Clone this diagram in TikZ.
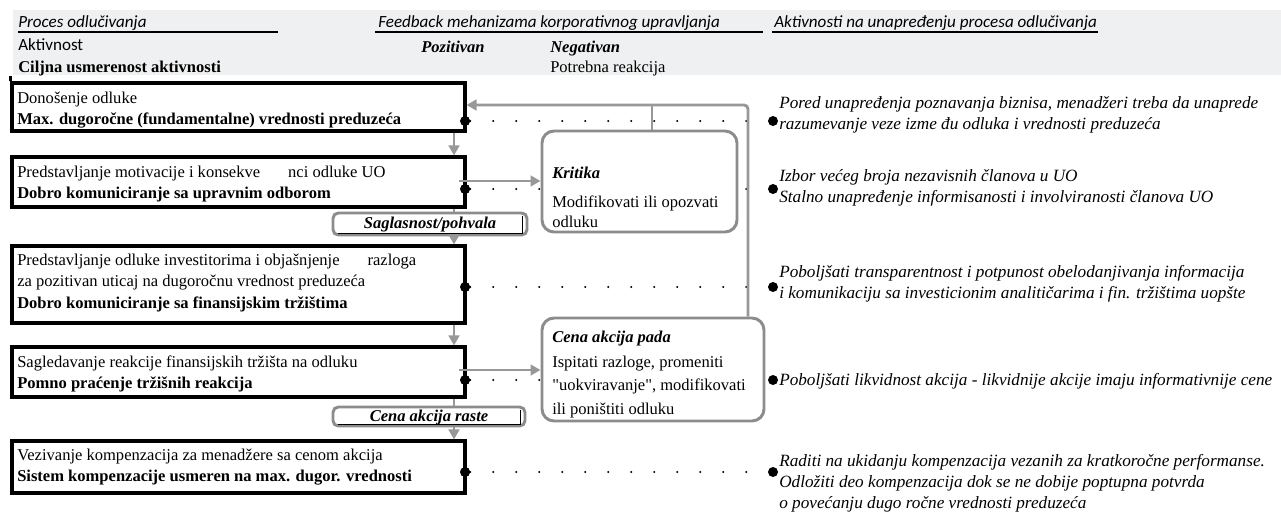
\documentclass[tikz,border=0pt]{standalone}
\usepackage{fontspec}
\setmainfont{Liberation Serif}
\newfontfamily\rawserif[Ligatures=TeXOff]{Liberation Serif}
\newfontfamily\calfont{Carlito}
\usetikzlibrary{arrows.meta,fit,calc}
\definecolor{band}{RGB}{239,240,241}
\definecolor{lg}{RGB}{152,152,152}
\definecolor{bg}{RGB}{140,140,140}
\tikzset{
 blackbox/.style={draw=black, line width=2.3pt, inner sep=0pt, fill=white},
 gbox/.style={draw=bg, line width=2.2pt, rounded corners=9pt, inner sep=0pt, fill=white},
 lbox/.style={draw=bg, line width=2.2pt, rounded corners=4pt, inner sep=0pt, fill=white},
 garrow/.style={draw=lg, line width=2.2pt, -{Triangle[length=7.5pt,width=8pt]}},
 gline/.style={draw=lg, line width=2.2pt},
 bigdot/.style={circle, fill=black, inner sep=0pt, minimum size=7.5pt},
 dotline/.style={draw=black, line width=1.6pt, line cap=round, dash pattern=on 0pt off 17.25pt},
 tx/.style={anchor=base west, inner sep=0pt, font=\fontsize{12.4}{15}\selectfont},
 tb/.style={tx, font=\fontsize{12.4}{15}\selectfont\bfseries},
 tbi/.style={tx, font=\fontsize{12.4}{15}\selectfont\bfseries\itshape},
 ti/.style={tx, font=\fontsize{12.9}{15}\selectfont\itshape},
 hs/.style={tx, font=\fontsize{12.8}{15}\selectfont\calfont},
 hsi/.style={tx, font=\fontsize{12.8}{15}\selectfont\calfont\itshape},
}
\begin{document}
\begin{tikzpicture}[x=0.75pt,y=-0.75pt]
\useasboundingbox (0,0) rectangle (1281,525);
\fill[white] (0,0) rectangle (1281,525);
% header band
\node[fill=band, inner sep=0pt, fit={(13,10)(1281,75)}] (hdr) {};
\node[hsi] (h1) at (18,27) {Proces odlučivanja};
\node[hsi] (h2) at (378,27) {Feedback mehanizama korporativnog upravljanja};
\node[hsi] (h3) at (774,27) {Aktivnosti na unapređenju procesa odlučivanja};
\draw[line width=0.9pt] (18,32) -- (278,32);
\draw[line width=0.9pt] (375,32) -- (763,32);
\draw[line width=0.9pt] (772,32) -- (1098,32);
\node[hs] (ha) at (18,50) {Aktivnost};
\node[tb] (hc) at (18,72) {Ciljna usmerenost aktivnosti};
\node[tbi] (hp) at (421,52) {Pozitivan};
\node[tbi] (hn) at (550,52) {Negativan};
\node[tx] (hr) at (550,72) {Potrebna reakcija};
% dots
\node[bigdot] (l1) at (465,121) {}; \node[bigdot] (r1) at (773,121) {};
\node[bigdot] (l2) at (465,189) {}; \node[bigdot] (r2) at (773,189) {};
\node[bigdot] (l3) at (465,287) {}; \node[bigdot] (r3) at (773,287) {};
\node[bigdot] (l4) at (465,380) {}; \node[bigdot] (r4) at (773,380) {};
\node[bigdot] (l5) at (465,472) {}; \node[bigdot] (r5) at (773,472) {};
\foreach \i in {1,...,5} {\draw[dotline] (l\i) -- (r\i);}
% boxes
\node[blackbox, fit={(12,83)(465,131)}] (b1) {};
\node[blackbox, fit={(12,157)(465,207)}] (b2) {};
\node[blackbox, fit={(12,246)(465,323)}] (b3) {};
\node[blackbox, fit={(12,347)(465,397)}] (b4) {};
\node[blackbox, fit={(12,441)(465,493)}] (b5) {};
\draw[line width=2.3pt] (b1.north west) -- ++(0,-5);
% feedback lines
\coordinate (fb) at (748,105);
\coordinate (fk) at (652,105);
\node[gbox, fit={(542,318)(764,421)}] (cp) {};
\draw[garrow, rounded corners=3pt] (cp.north -| fb) -- (fb) -- (fb -| b1.east);
\draw[gline] (fk) -- (fk |- 0,131);
\node[gbox, fit={(542,131)(737,232)}] (kr) {};
% labels
\node[lbox, fit={(333,213)(527,235)}] (sag) {};
\node[lbox, fit={(333,407)(525,426)}] (rst) {};
\foreach \n in {sag,rst} {
  \draw[line width=0.7pt] ($(\n.south west)+(6,-3)$) -- ($(\n.south east)+(-6,-3)$) -- ($(\n.north east)+(-6,4)$);
}
\node[tbi, anchor=base] (sagt) at (430,228) {Saglasnost/pohvala};
\node[tbi, anchor=base] (rstt) at (429,421) {Cena akcija raste};
% vertical arrows
\coordinate (ax) at (454,0);
\draw[garrow] (b1.south -| ax) -- (b2.north -| ax);
\draw[gline] (b2.south -| ax) -- (sag.north -| ax);
\draw[garrow] (sag.south -| ax) -- (b3.north -| ax);
\draw[garrow] (b3.south -| ax) -- (b4.north -| ax);
\draw[gline] (b4.south -| ax) -- (rst.north -| ax);
\draw[garrow] (rst.south -| ax) -- (b5.north -| ax);
% horizontal arrows
\coordinate (g2) at (459,181);
\coordinate (g4) at (459,370);
\draw[garrow] (g2) -- (g2 -| kr.west);
\draw[garrow] (g4) -- (g4 -| cp.west);
% redraw left dots on top
\foreach \i in {1,...,5} {\fill (l\i) circle[radius=3.75pt];}
% box texts
\node[tx] (t1a) at (17,103) {Donošenje odluke};
\node[tb] (t1b) at (17,124) {Max. dugoročne (fundamentalne) vrednosti preduzeća};
\node[tx] (t2a) at (17,177) {Predstavljanje motivacije i konsekve\hspace{21pt}nci odluke UO};
\node[tb] (t2b) at (17,198) {Dobro komuniciranje sa upravnim odborom};
\node[tx] (t3a) at (17,265) {Predstavljanje odluke investitorima i objašnjenje\hspace{21pt}razloga};
\node[tx] (t3b) at (17,286) {za pozitivan uticaj na dugoročnu vrednost preduzeća};
\node[tb] (t3c) at (17,308) {Dobro komuniciranje sa finansijskim tržištima};
\node[tx] (t4a) at (17,367) {Sagledavanje reakcije finansijskih tržišta na odluku};
\node[tb] (t4b) at (17,388) {Pomno praćenje tržišnih reakcija};
\node[tx] (t5a) at (17,460) {Vezivanje kompenzacija za menadžere sa cenom akcija};
\node[tb] (t5b) at (17,481) {Sistem kompenzacije usmeren na max. dugor. vrednosti};
% feedback box texts
\node[tbi] (k1) at (552,178) {Kritika};
\node[tx] (k2) at (552,207) {Modifikovati ili opozvati};
\node[tx] (k3) at (552,227) {odluku};
\node[tbi] (c1) at (552,342) {Cena akcija pada};
\node[tx] (c2) at (552,367) {Ispitati razloge, promeniti};
\node[tx] (c3) at (552,390) {{\rawserif "}uokviravanje{\rawserif "}, modifikovati};
\node[tx] (c4) at (552,414) {ili poništiti odluku};
% right texts
\node[ti] (a1) at (779,108) {Pored unapređenja poznavanja biznisa, menadžeri treba da unaprede};
\node[ti] (a2) at (779,129) {razumevanje veze izme đu odluka i vrednosti preduzeća};
\node[ti] (a3) at (779,181) {Izbor većeg broja nezavisnih članova u UO};
\node[ti] (a4) at (779,202) {Stalno unapređenje informisanosti i involviranosti članova UO};
\node[ti] (a5) at (779,277) {Poboljšati transparentnost i potpunost obelodanjivanja informacija};
\node[ti] (a6) at (779,298) {i komunikaciju sa investicionim analitičarima i fin. tržištima uopšte};
\node[ti] (a7) at (779,385) {Poboljšati likvidnost akcija - likvidnije akcije imaju informativnije cene};
\node[ti] (a8) at (779,466) {Raditi na ukidanju kompenzacija vezanih za kratkoročne performanse.};
\node[ti] (a9) at (779,487) {Odložiti deo kompenzacija dok se ne dobije poptupna potvrda};
\node[ti] (a10) at (779,508) {o povećanju dugo ročne vrednosti preduzeća};
\end{tikzpicture}
\end{document}
